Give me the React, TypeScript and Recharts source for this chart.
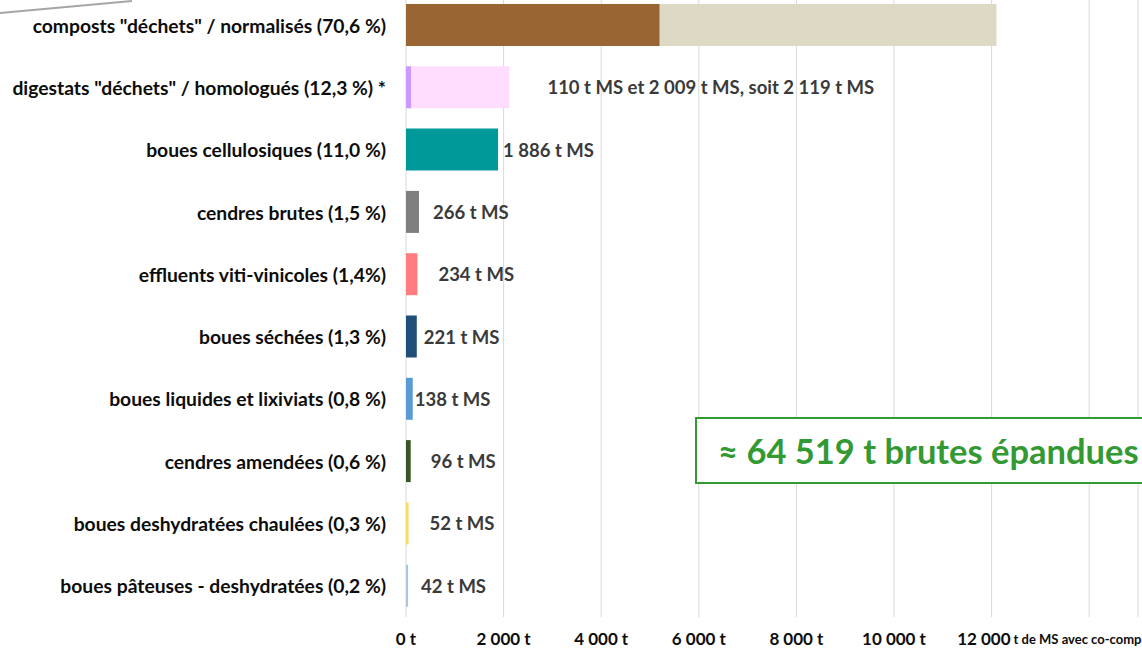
import { BarChart, Bar, XAxis, YAxis, CartesianGrid, Cell, LabelList } from 'recharts';

// catégories (de haut en bas)
const categories = [
  'composts "déchets" / normalisés (70,6 %)',
  'digestats "déchets" / homologués (12,3 %) *',
  'boues cellulosiques (11,0 %)',
  'cendres brutes (1,5 %)',
  'effluents viti-vinicoles (1,4%)',
  'boues séchées (1,3 %)',
  'boues liquides et lixiviats (0,8 %)',
  'cendres amendées (0,6 %)',
  'boues deshydratées chaulées (0,3 %)',
  'boues pâteuses - deshydratées (0,2 %)',
];

// t de MS : première partie et seconde partie (empilées)
const partA = [5200, 110, 1886, 266, 234, 221, 138, 96, 52, 42];
const partB = [6900, 2009, 0, 0, 0, 0, 0, 0, 0, 0];

const valueLabels = [
  '',
  '110 t MS et 2 009 t MS, soit 2 119 t MS',
  '1 886 t MS',
  '266 t MS',
  '234 t MS',
  '221 t MS',
  '138 t MS',
  '96 t MS',
  '52 t MS',
  '42 t MS',
];

const xTicks = [0, 2000, 4000, 6000, 8000, 10000, 12000, 14000];

// couleurs
const colorsA = ['#996633', '#CC99FF', '#009999', '#7F7F7F', '#FF7C80', '#1F4E79', '#5B9BD5', '#375623', '#FFD966', '#A9C4E4'];
const colorsB = ['#DDD9C4', '#FFDDFF', '#fff', '#fff', '#fff', '#fff', '#fff', '#fff', '#fff', '#fff'];
// décalage des étiquettes (placées à la main dans l'original)
const labelDx = [0, 38, 5, 14, 21, 7, 2, 20, 21, 13];

// étiquette portée par le segment visible le plus à droite
const data = categories.map((name, i) => ({
  name,
  a: partA[i],
  b: partB[i],
  lblA: partB[i] > 0 ? '' : valueLabels[i],
  lblB: partB[i] > 0 ? valueLabels[i] : '',
}));

const FONT = 'Lato, "Open Sans", sans-serif';

const fmt = (v: number) => String(v).replace(/\B(?=(\d{3})+(?!\d))/g, ' ');

const XTick = (props: any) => {
  const { x, y, payload } = props;
  const v = payload.value;
  if (v === 14000) return <g />;
  if (v === 12000) {
    return (
      <g>
        <text x={x + 19} y={y + 21} textAnchor="end" dominantBaseline="central" fontFamily={FONT} fontWeight={700} fontSize={17} fill="#0D0D0D">
          {fmt(v)}
        </text>
        <text x={x + 22} y={y + 22} textAnchor="start" dominantBaseline="central" fontFamily={FONT} fontWeight={700} fontSize={13} fill="#0D0D0D">
          t de MS avec co-compostage
        </text>
      </g>
    );
  }
  return (
    <text x={x} y={y + 21} textAnchor="middle" dominantBaseline="central" fontFamily={FONT} fontWeight={700} fontSize={17} fill="#0D0D0D">
      {fmt(v) + ' t'}
    </text>
  );
};

const YTick = (props: any) => {
  const { x, y, payload } = props;
  return (
    <text x={x} y={y} textAnchor="end" dominantBaseline="central" fontFamily={FONT} fontWeight={700} fontSize={19.3} fill="#0D0D0D">
      {payload.value}
    </text>
  );
};

const ValueLabel = (props: any) => {
  const vb = props.viewBox || props;
  const { index, value } = props;
  if (!value) return null;
  const end = vb.x + vb.width;
  return (
    <text x={end + labelDx[index]} y={vb.y + vb.height / 2} dominantBaseline="central" fontFamily={FONT} fontWeight={700} fontSize={18.5} fill="#3A3A3A">
      {value}
    </text>
  );
};

export default function App() {
  return (
    <div style={{ position: 'absolute', left: 0, top: 0, width: 1142, height: 648, overflow: 'hidden', background: '#fff' }}>
      <div style={{ position: 'absolute', left: 0, top: -6 }}>
        <BarChart
          width={1142}
          height={663}
          data={data}
          layout="vertical"
          margin={{ top: 0, right: 4, bottom: 0, left: 0 }}
          barSize={42}
        >
          <CartesianGrid horizontal={false} vertical stroke="#D9D9D9" />
          <XAxis
            type="number"
            domain={[0, 15000]}
            ticks={xTicks}
            axisLine={false}
            tickLine={false}
            tickSize={0}
            tickMargin={0}
            height={40}
            tick={<XTick />}
            interval={0}
          />
          <YAxis
            type="category"
            dataKey="name"
            width={406}
            axisLine={false}
            tickLine={false}
            tickSize={0}
            tickMargin={20}
            tick={<YTick />}
            interval={0}
          />
          <Bar dataKey="a" stackId="s" isAnimationActive={false}>
            {data.map((_, i) => (
              <Cell key={`a-${i}`} fill={colorsA[i]} />
            ))}
            <LabelList dataKey="lblA" content={<ValueLabel />} />
          </Bar>
          <Bar dataKey="b" stackId="s" isAnimationActive={false}>
            {data.map((_, i) => (
              <Cell key={`b-${i}`} fill={colorsB[i]} />
            ))}
            <LabelList dataKey="lblB" content={<ValueLabel />} />
          </Bar>
        </BarChart>
      </div>
      <svg style={{ position: 'absolute', left: 0, top: 0 }} width={160} height={20}>
        <line x1={0} y1={13} x2={132} y2={1} stroke="#A6A6A6" strokeWidth={2} />
      </svg>
      <div
        style={{
          position: 'absolute',
          left: 695,
          top: 417,
          width: 470,
          height: 63,
          border: '2px solid #339933',
          background: '#fff',
          boxSizing: 'content-box',
          fontFamily: FONT,
          fontWeight: 700,
          fontSize: 34.5,
          color: '#339933',
          lineHeight: '63px',
          paddingLeft: 21,
          whiteSpace: 'nowrap',
        }}
      >
        ≈ 64 519 t brutes épandues
      </div>
    </div>
  );
}
